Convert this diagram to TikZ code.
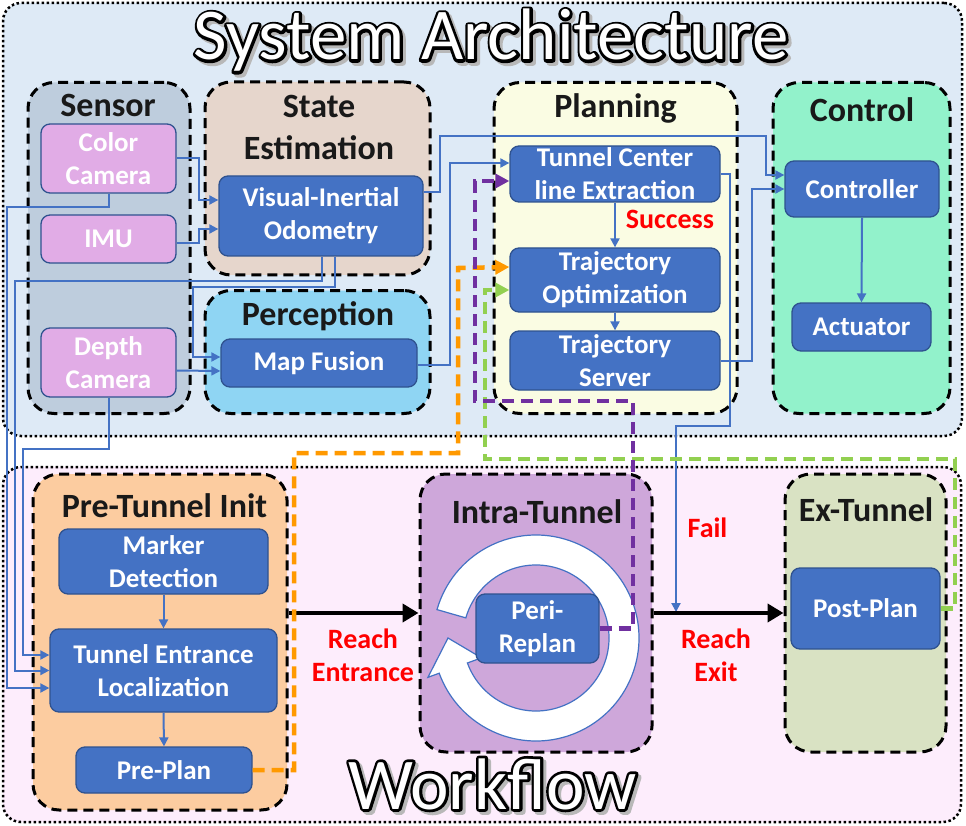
\documentclass[tikz,border=0pt]{standalone}
\usepackage{fontspec}
\setmainfont{Carlito}
\usetikzlibrary{arrows.meta,calc}
\definecolor{sysbg}{RGB}{222,234,246}
\definecolor{wfbg}{RGB}{253,237,252}
\definecolor{sensorc}{RGB}{190,205,221}
\definecolor{statec}{RGB}{230,214,204}
\definecolor{percc}{RGB}{143,213,243}
\definecolor{planc}{RGB}{250,252,227}
\definecolor{ctrlc}{RGB}{146,242,203}
\definecolor{prec}{RGB}{252,204,160}
\definecolor{intrac}{RGB}{206,167,218}
\definecolor{exc}{RGB}{217,226,195}
\definecolor{boxblue}{RGB}{68,114,196}
\definecolor{boxedge}{RGB}{47,82,143}
\definecolor{pinkc}{RGB}{225,172,230}
\definecolor{orangec}{RGB}{255,153,0}
\definecolor{greenc}{RGB}{146,208,80}
\definecolor{purplec}{RGB}{112,48,160}
\newcommand{\strokeblack}[1]{\special{pdf:literal 0 0 0 RG 5.5 w 1 j 2 Tr}#1\special{pdf:literal 0 Tr}}
\newcommand{\strokegray}[1]{\special{pdf:literal 0.72 0.72 0.72 RG 5.5 w 1 j 2 Tr}#1\special{pdf:literal 0 Tr}}
\newcommand{\outlinetitle}[1]{%
  \rlap{\hspace*{3pt}\raisebox{-3pt}{\textcolor{black!28}{\strokegray{#1}}}}%
  \rlap{\textcolor{black}{\strokeblack{#1}}}%
  \textcolor{white}{#1}}
\begin{document}
\begin{tikzpicture}[x=1pt,y=-1pt,
  panel/.style={draw=black, line width=2.5pt, dash pattern=on 2.5pt off 2.5pt, rounded corners=18pt, inner sep=0pt},
  grp/.style={draw=black, line width=3pt, dash pattern=on 10pt off 6pt, rounded corners=26pt, inner sep=0pt},
  box/.style={draw=boxedge, line width=1.3pt, fill=boxblue, rounded corners=9pt, text=white, font=\bfseries\fontsize{27}{33}\selectfont, align=center, inner sep=0pt},
  sbox/.style={box, fill=pinkc},
  gtitle/.style={font=\bfseries\fontsize{34}{42}\selectfont, text=black!90, align=center, inner sep=0pt},
  lbl/.style={text=red, font=\bfseries\fontsize{28}{33}\selectfont, align=center, inner sep=0pt},
  bigt/.style={font=\fontsize{73}{80}\selectfont, inner sep=0pt, anchor=base},
  bl/.style={draw=boxblue, line width=2pt},
  bla/.style={bl, -{Triangle[length=9pt,width=9pt]}},
  blk/.style={draw=black, line width=4.5pt, -{Triangle[length=16pt,width=18pt]}},
  dsh/.style={line width=4.5pt, dash pattern=on 12pt off 7pt, -{Triangle[length=14pt,width=14pt]}}
]
\useasboundingbox (0,0) rectangle (966,826);
\fill[white] (0,0) rectangle (966,826);

% panels
\node[panel, fill=sysbg, minimum width=959pt, minimum height=433pt] (sysp) at (482.5,219.5) {};
\node[panel, fill=wfbg, minimum width=958pt, minimum height=355pt] (wfp) at (482,644.5) {};

% big titles (gray shadow, black outline, white fill)
\node[bigt] (systitle) at (491,60) {\outlinetitle{System Architecture}};
\node[bigt] (wftitle) at (492.5,809) {\outlinetitle{Workflow}};

% groups
\node[grp, fill=sensorc, minimum width=162pt, minimum height=331pt] (sensorg) at (109,248) {};
\node[grp, fill=statec, minimum width=225pt, minimum height=193pt] (stateg) at (317.5,178.5) {};
\node[grp, fill=percc, minimum width=225pt, minimum height=123pt] (percg) at (317.5,352) {};
\node[grp, fill=planc, minimum width=243pt, minimum height=331pt] (plang) at (615.5,248) {};
\node[grp, fill=ctrlc, minimum width=177pt, minimum height=331pt] (ctrlg) at (861.5,248) {};
\node[grp, fill=prec, minimum width=254pt, minimum height=336pt] (preg) at (160,642) {};
\node[grp, fill=intrac, minimum width=232pt, minimum height=278pt] (intrag) at (536,613) {};
\node[grp, fill=exc, minimum width=161pt, minimum height=278pt] (exg) at (865.5,613) {};

% group titles
\node[gtitle, anchor=base] (sensort) at (108,117) {Sensor};
\node[gtitle] (statet) at (319,127.5) {State\\Estimation};
\node[gtitle, anchor=base] (perct) at (318,325) {Perception};
\node[gtitle, anchor=base] (plant) at (615.5,118) {Planning};
\node[gtitle, anchor=base] (ctrlt) at (862,122) {Control};
\node[gtitle, anchor=base] (pret) at (164.5,517) {Pre-Tunnel Init};
\node[gtitle, anchor=base] (intrat) at (537,523) {Intra-Tunnel};
\node[gtitle, anchor=base] (ext) at (866,521) {Ex-Tunnel};

% cycle ring
\begin{scope}[shift={(536,638)}, x=1pt, y=1pt]
\filldraw[fill=white, draw=boxblue, line width=1.2pt]
  (164:103) arc[start angle=164, end angle=-160, radius=103pt]
  -- (-160:115) -- (180:88) -- (-160:58) -- (-160:73)
  arc[start angle=-160, end angle=164, radius=73pt] -- cycle;
\end{scope}

% boxes
\node[sbox, minimum width=135pt, minimum height=69pt] (cc) at (108.5,158.5) {Color\\Camera};
\node[sbox, minimum width=135pt, minimum height=48pt] (imu) at (108.5,239) {IMU};
\node[sbox, minimum width=135pt, minimum height=69pt] (dc) at (108.5,362.5) {Depth\\Camera};
\node[box, minimum width=204pt, minimum height=80pt] (vio) at (321,216) {Visual-Inertial\\Odometry};
\node[box, minimum width=196pt, minimum height=48pt] (mf) at (319,363) {Map Fusion};
\node[box, minimum width=210pt, minimum height=56pt] (tce) at (615,174) {Tunnel Center\\line Extraction};
\node[box, minimum width=210pt, minimum height=64pt] (to) at (615,280) {Trajectory\\Optimization};
\node[box, minimum width=210pt, minimum height=59pt] (ts) at (615,360.5) {Trajectory\\Server};
\node[box, minimum width=154pt, minimum height=56pt] (ctrl) at (862,189) {Controller};
\node[box, minimum width=139pt, minimum height=48pt] (act) at (861.5,327) {Actuator};
\node[box, minimum width=209pt, minimum height=65pt] (md) at (163.5,561.5) {Marker\\Detection};
\node[box, minimum width=227pt, minimum height=83pt] (tel) at (163.5,670.5) {Tunnel Entrance\\Localization};
\node[box, minimum width=176pt, minimum height=46pt] (pp) at (164,770) {Pre-Plan};
\node[box, minimum width=123pt, minimum height=69pt] (peri) at (537.5,628.5) {Peri-\\Replan};
\node[box, minimum width=149pt, minimum height=81pt] (post) at (865.5,608.5) {Post-Plan};

% blue connectors
\draw[bla] (cc.east) -- ++(22,0) |- ($(vio.west)+(0,-16)$);
\draw[bla] ($(imu.east)+(0,4)$) -- ++(22,0) |- ($(vio.west)+(0,13)$);
\draw[bla] (cc.south) |- (7,207) |- ($(tel.west)+(0,17.5)$);
\draw[bla] ($(vio.south)+(1,0)$) |- (15,281) |- (tel.west);
\draw[bla] (dc.south) |- (23,449) |- ($(tel.west)+(0,-15.5)$);
\draw[bla] ($(vio.south)+(14,0)$) |- (193,287) |- ($(mf.west)+(0,-6)$);
\draw[bla] ($(dc.east)+(0,8)$) -- ($(mf.west)+(0,8)$);
\draw[bla] ($(mf.east)+(0,2)$) -| (450,163) -- ($(tce.west)+(0,-11)$);
\draw[bla] ($(vio.east)+(0,-24)$) -| (440,136) -| (766,175) -- ($(ctrl.west)+(0,-14)$);
\draw[bla] (ts.east) -| (752,189) -- (ctrl.west);
\coordinate (failend) at (676,612);
\draw[bla] (tce.east) -| (730,426) -| (failend);
\draw[bla] (tce.south) -- (to.north);
\draw[bla] (to.south) -- (ts.north);
\draw[bla] (ctrl.south) -- (act.north);
\draw[bla] (md.south) -- (tel.north);
\draw[bla] (tel.south) -- (pp.north);

% black workflow arrows
\draw[blk] (preg.east |- intrag.west) -- (intrag.west);
\draw[blk] (intrag.east) -- (exg.west);

% dashed feedback
\draw[dsh, draw=orangec] (pp.east) -| (294,453) -| (458,268) -- ($(to.west)+(0,-13)$);
\draw[dsh, draw=greenc] (post.east) -| (955,459) -| (485,290) -- ($(to.west)+(0,10)$);
\draw[dsh, draw=purplec] (peri.east) -| (633,401) -| (475,181) -- ($(tce.west)+(0,7)$);

% labels
\node[lbl, anchor=base] (succ) at (670,229) {Success};
\node[lbl, anchor=base] (fail) at (707.5,537) {Fail};
\node[lbl] (rent) at (363,655) {Reach\\Entrance};
\node[lbl] (rexit) at (716,655) {Reach\\Exit};
\end{tikzpicture}
\end{document}
